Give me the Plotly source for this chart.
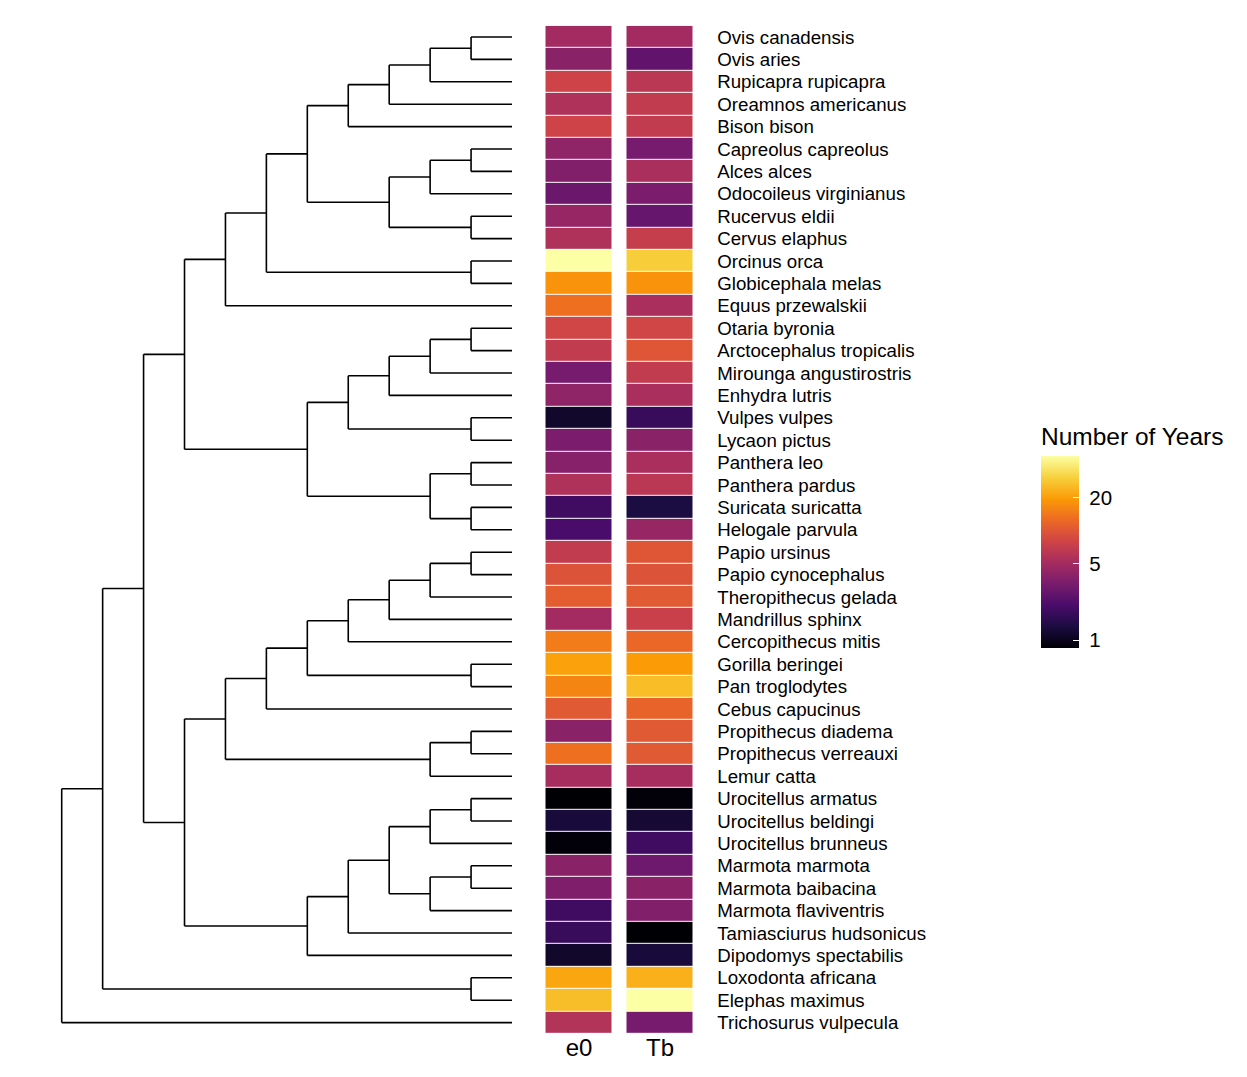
import numpy as np
import plotly.graph_objects as go

# ---------------- data ----------------
species = [
    "Ovis canadensis", "Ovis aries", "Rupicapra rupicapra", "Oreamnos americanus",
    "Bison bison", "Capreolus capreolus", "Alces alces", "Odocoileus virginianus",
    "Rucervus eldii", "Cervus elaphus", "Orcinus orca", "Globicephala melas",
    "Equus przewalskii", "Otaria byronia", "Arctocephalus tropicalis",
    "Mirounga angustirostris", "Enhydra lutris", "Vulpes vulpes", "Lycaon pictus",
    "Panthera leo", "Panthera pardus", "Suricata suricatta", "Helogale parvula",
    "Papio ursinus", "Papio cynocephalus", "Theropithecus gelada", "Mandrillus sphinx",
    "Cercopithecus mitis", "Gorilla beringei", "Pan troglodytes", "Cebus capucinus",
    "Propithecus diadema", "Propithecus verreauxi", "Lemur catta",
    "Urocitellus armatus", "Urocitellus beldingi", "Urocitellus brunneus",
    "Marmota marmota", "Marmota baibacina", "Marmota flaviventris",
    "Tamiasciurus hudsonicus", "Dipodomys spectabilis", "Loxodonta africana",
    "Elephas maximus", "Trichosurus vulpecula",
]

e0 = [5.0, 3.9, 7.8, 5.7, 7.8, 4.1, 3.6, 2.85, 4.45, 5.7,
      48.2, 18.3, 13.2, 8.15, 6.9, 3.2, 4.1, 1.13, 3.35, 3.8,
      5.7, 1.9, 2.07, 6.9, 9.6, 10.8, 5.0, 14.9, 20.6, 16.2,
      10.4, 3.9, 13.2, 5.2, 0.85, 1.27, 0.88, 3.9, 3.5, 1.9,
      1.76, 1.13, 21.5, 26.3, 5.9]

Tb = [5.0, 2.63, 6.4, 6.9, 6.9, 3.2, 5.4, 3.35, 2.74, 7.2,
      30.0, 18.3, 5.4, 8.15, 10.0, 6.9, 5.4, 1.76, 3.9, 5.4,
      6.4, 1.33, 4.45, 10.0, 9.6, 10.4, 7.5, 12.2, 19.8, 26.0,
      11.7, 10.4, 10.4, 5.2, 0.88, 1.22, 1.9, 2.97, 3.9, 3.6,
      0.85, 1.27, 23.3, 48.0, 3.2]

measures = ["e0", "Tb"]
colorbar_ticks = [1, 5, 20]

# tree topology (nested pairs of species names)
bovids = (((("Ovis canadensis", "Ovis aries"), "Rupicapra rupicapra"),
           "Oreamnos americanus"), "Bison bison")
cervids = ((("Capreolus capreolus", "Alces alces"), "Odocoileus virginianus"),
           ("Rucervus eldii", "Cervus elaphus"))
cetartio = ((bovids, cervids), ("Orcinus orca", "Globicephala melas"))
ungulates = (cetartio, "Equus przewalskii")
caniforms = (((("Otaria byronia", "Arctocephalus tropicalis"), "Mirounga angustirostris"),
              "Enhydra lutris"), ("Vulpes vulpes", "Lycaon pictus"))
feliforms = (("Panthera leo", "Panthera pardus"), ("Suricata suricatta", "Helogale parvula"))
laurasia = (ungulates, (caniforms, feliforms))
primates = (((((("Papio ursinus", "Papio cynocephalus"), "Theropithecus gelada"),
               "Mandrillus sphinx"), "Cercopithecus mitis"),
             ("Gorilla beringei", "Pan troglodytes")), "Cebus capucinus"), \
           (("Propithecus diadema", "Propithecus verreauxi"), "Lemur catta")
rodents = (((("Urocitellus armatus", "Urocitellus beldingi"), "Urocitellus brunneus"),
            (("Marmota marmota", "Marmota baibacina"), "Marmota flaviventris")),
           "Tamiasciurus hudsonicus"), "Dipodomys spectabilis"
tree = ((((laurasia, (primates, rodents)), ("Loxodonta africana", "Elephas maximus"))),
        "Trichosurus vulpecula")

# ---------------- dendrogram geometry from topology ----------------
row_of = {s: i for i, s in enumerate(species)}
seg_x, seg_y = [], []


def layout(node):
    """return (height, y) of node and collect segments"""
    if isinstance(node, str):
        return 0, row_of[node]
    kids = [layout(c) for c in node]
    h = 1 + max(k[0] for k in kids)
    ys = [k[1] for k in kids]
    y = (min(ys) + max(ys)) / 2
    seg_x.extend([h, h, None])
    seg_y.extend([min(ys), max(ys), None])
    for kh, ky in kids:
        seg_x.extend([h, kh, None])
        seg_y.extend([ky, ky, None])
    return h, y


root_h, _ = layout(tree)

# ---------------- figure ----------------
W, H = 1247, 1077
y_top_px, y_bot_px = 25.8, 1033.8
ydom = [1 - y_bot_px / H, 1 - y_top_px / H]
FONT = "Liberation Sans, Arial"

fig = go.Figure()

fig.add_trace(go.Scatter(
    x=seg_x, y=seg_y, mode="lines",
    line=dict(color="black", width=1.6),
    hoverinfo="skip", showlegend=False,
    xaxis="x", yaxis="y",
))

z = np.log10(np.array([e0, Tb]).T)
zmin = float(np.log10(min(min(e0), min(Tb))))
zmax = float(np.log10(max(max(e0), max(Tb))))

title_px = 34
fig.add_trace(go.Heatmap(
    z=z, x=[0, 1], y=list(range(len(species))),
    colorscale="Inferno", zmin=zmin, zmax=zmax,
    xgap=15, ygap=1,
    xaxis="x2", yaxis="y2",
    customdata=np.array([e0, Tb]).T,
    hovertemplate="%{customdata:.2f}<extra></extra>",
    colorbar=dict(
        title=dict(text="Number of Years", side="top",
                   font=dict(size=24.5, family=FONT, color="black")),
        tickvals=list(np.log10(colorbar_ticks)),
        ticktext=["\u00a0" + str(t) for t in colorbar_ticks],
        tickfont=dict(size=20.5, family=FONT, color="black"),
        ticks="inside", ticklen=6, tickcolor="white", tickwidth=1.2,
        thickness=38, thicknessmode="pixels",
        len=190 + title_px, lenmode="pixels",
        x=1041 / W, xanchor="left", xpad=0,
        y=1 - (458 - title_px) / H, yanchor="top", ypad=0,
        outlinewidth=0,
    ),
))

# dendrogram axis: height -> pixels (h=0 at 512, h=root at 61.7)
px_per = (512 - 61.7) / root_h
xd0, xd1 = 30, 530
fig.update_layout(
    xaxis=dict(domain=[xd0 / W, xd1 / W],
               range=[(512 - xd0) / px_per, (512 - xd1) / px_per],
               visible=False, fixedrange=True),
    yaxis=dict(domain=ydom, range=[len(species) - 0.5, -0.5],
               visible=False, anchor="x"),
    xaxis2=dict(domain=[538.5 / W, 700.5 / W], range=[-0.5, 1.5],
                anchor="y2", tickvals=[0, 1], ticktext=measures,
                showgrid=False, zeroline=False, showline=False, ticks="",
                ticklabelstandoff=-3,
                tickfont=dict(size=24, family=FONT, color="black")),
    yaxis2=dict(domain=ydom, range=[len(species) - 0.5, -0.5],
                anchor="x2", side="right",
                tickvals=list(range(len(species))), ticktext=species,
                showgrid=False, zeroline=False, showline=False,
                ticks="outside", ticklen=12, tickcolor="rgba(0,0,0,0)",
                tickfont=dict(size=18.7, family=FONT, color="black")),
    width=W, height=H,
    margin=dict(l=0, r=0, t=0, b=0),
    paper_bgcolor="white", plot_bgcolor="white",
    showlegend=False,
)

fig.write_html("out.html")
